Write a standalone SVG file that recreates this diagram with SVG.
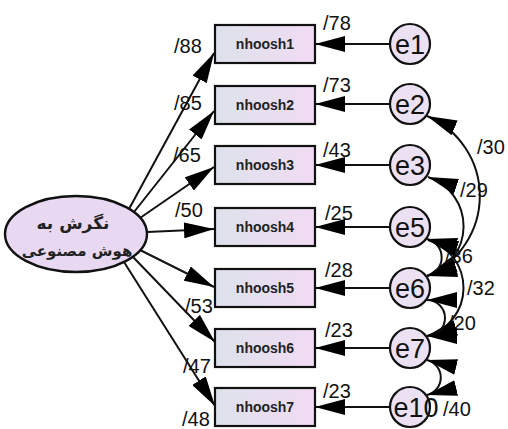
<svg xmlns="http://www.w3.org/2000/svg" width="508" height="429" viewBox="0 0 508 429">
<style>
.lbl{font-family:"Liberation Sans",Arial,sans-serif;font-size:20px;fill:#111}
.box{fill:url(#boxg);stroke:#111;stroke-width:2.2}
.bt{font-family:"Liberation Sans",Arial,sans-serif;font-size:14px;font-weight:bold;fill:#222;text-anchor:middle}
.err{fill:#ebe1f2;stroke:#111;stroke-width:2.2}
.et{font-family:"Liberation Sans",Arial,sans-serif;font-size:27px;fill:#111;text-anchor:middle}
.ln{fill:none;stroke:#111;stroke-width:2;marker-end:url(#ah)}
.cv{fill:none;stroke:#111;stroke-width:2;marker-start:url(#ah);marker-end:url(#ah)}
.fa{font-family:"DejaVu Sans",sans-serif;font-weight:bold;fill:#222;text-anchor:middle}
</style>
<defs>
<linearGradient id="boxg" x1="0" y1="0" x2="1" y2="0">
<stop offset="0" stop-color="#dde2ec"/>
<stop offset="1" stop-color="#f1dbf3"/>
</linearGradient>
<marker id="ah" viewBox="0 0 30 16" markerWidth="30" markerHeight="16" refX="30" refY="8" markerUnits="userSpaceOnUse" orient="auto-start-reverse">
<path d="M0,0 L30,8 L0,16 Z" fill="#000"/>
</marker>
</defs>
<rect width="508" height="429" fill="#fff"/>
<g id="labels">
<text class="lbl" x="174" y="53">/88</text>
<text class="lbl" x="174" y="110">/85</text>
<text class="lbl" x="173" y="162">/65</text>
<text class="lbl" x="175" y="217">/50</text>
<text class="lbl" x="185" y="313">/53</text>
<text class="lbl" x="183" y="373">/47</text>
<text class="lbl" x="182" y="426">/48</text>
<text class="lbl" x="323" y="30">/78</text>
<text class="lbl" x="323" y="92">/73</text>
<text class="lbl" x="323" y="157">/43</text>
<text class="lbl" x="325" y="220">/25</text>
<text class="lbl" x="325" y="277">/28</text>
<text class="lbl" x="325" y="337">/23</text>
<text class="lbl" x="323" y="398">/23</text>
<text class="lbl" x="477" y="154">/30</text>
<text class="lbl" x="460" y="197">/29</text>
<text class="lbl" x="445" y="263">/36</text>
<text class="lbl" x="467" y="295">/32</text>
<text class="lbl" x="448" y="330">/20</text>
<text class="lbl" x="443" y="416">/40</text>
</g>
<g id="connectors">
<path class="ln" d="M129,209 L214,53"/>
<path class="ln" d="M134,212 L214,111"/>
<path class="ln" d="M140,218 L214,167"/>
<path class="ln" d="M147,232 L214,229"/>
<path class="ln" d="M140,250 L214,287"/>
<path class="ln" d="M133,257 L215,342"/>
<path class="ln" d="M124,262 L215,406"/>
<path class="ln" d="M390,44 L315,44"/>
<path class="ln" d="M390,104 L315,104"/>
<path class="ln" d="M390,165 L315,165"/>
<path class="ln" d="M390,227 L315,227"/>
<path class="ln" d="M390,288 L315,288"/>
<path class="ln" d="M390,348 L315,348"/>
<path class="ln" d="M390,407 L315,407"/>
<path class="cv" d="M427,116 A87,87 0 0 1 427,276"/>
<path class="cv" d="M428,177 A52,52 0 0 1 427,276"/>
<path class="cv" d="M427,239 A19,19 0 0 1 427,276"/>
<path class="cv" d="M428,240 A50,50 0 0 1 427,336"/>
<path class="cv" d="M427,300 A18,18 0 0 1 427,336"/>
<path class="cv" d="M427,360 A18,18 0 0 1 427,395"/>
</g>
<g id="latent">
<ellipse cx="76" cy="234" rx="71" ry="38" fill="#e8d8f1" stroke="#111" stroke-width="2.4"/>
<text class="fa" x="73" y="229" font-size="17">نگرش به</text>
<text class="fa" x="77" y="256" font-size="15">هوش مصنوعی</text>
</g>
<g id="nhoosh1"><rect class="box" x="215" y="25" width="100" height="38"/><text class="bt" x="265" y="49">nhoosh1</text></g>
<g id="nhoosh2"><rect class="box" x="215" y="86" width="100" height="38"/><text class="bt" x="265" y="110">nhoosh2</text></g>
<g id="nhoosh3"><rect class="box" x="215" y="146" width="100" height="38"/><text class="bt" x="265" y="170">nhoosh3</text></g>
<g id="nhoosh4"><rect class="box" x="215" y="208" width="100" height="38"/><text class="bt" x="265" y="232">nhoosh4</text></g>
<g id="nhoosh5"><rect class="box" x="215" y="269" width="100" height="38"/><text class="bt" x="265" y="293">nhoosh5</text></g>
<g id="nhoosh6"><rect class="box" x="215" y="329" width="100" height="38"/><text class="bt" x="265" y="353">nhoosh6</text></g>
<g id="nhoosh7"><rect class="box" x="215" y="388" width="100" height="38"/><text class="bt" x="265" y="412" font-weight="normal">nhoosh7</text></g>
<g id="e1"><circle class="err" cx="410" cy="44" r="20"/><text class="et" x="410" y="54">e1</text></g>
<g id="e2"><circle class="err" cx="410" cy="104" r="20"/><text class="et" x="410" y="114">e2</text></g>
<g id="e3"><circle class="err" cx="410" cy="165" r="20"/><text class="et" x="410" y="175">e3</text></g>
<g id="e5"><circle class="err" cx="410" cy="227" r="20"/><text class="et" x="410" y="237">e5</text></g>
<g id="e6"><circle class="err" cx="410" cy="288" r="20"/><text class="et" x="410" y="298">e6</text></g>
<g id="e7"><circle class="err" cx="410" cy="348" r="20"/><text class="et" x="410" y="358">e7</text></g>
<g id="e10"><circle class="err" cx="410" cy="407" r="20"/><text class="et" x="416" y="417">e10</text></g>
</svg>
